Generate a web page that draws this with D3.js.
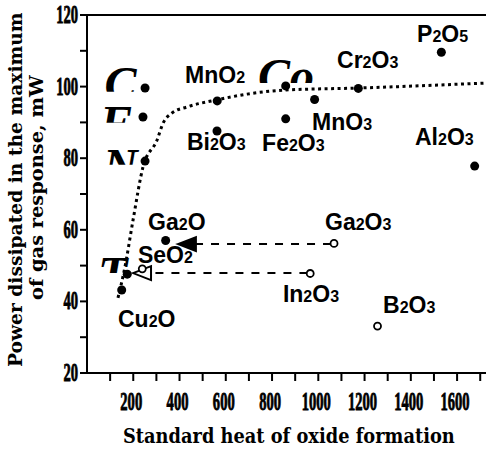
<!DOCTYPE html>
<html>
<head>
<meta charset="utf-8">
<script src="https://cdn.jsdelivr.net/npm/d3@7"></script>
<style>
  body { margin: 0; background: #fff; }
</style>
</head>
<body>
<svg id="chart" width="486" height="452"></svg>
<script>
// filled points (heat of formation, power)
const filledX = [150, 174, 340, 251, 242, 251, 563, 562, 859, 859, 984, 1173, 1532, 1676];
const filledY = [43.2, 47.6, 57, 99.6, 91.5, 79.2, 96, 87.6, 100.2, 91, 96.4, 99.5, 109.6, 77.8];

// open points
const openX = [239, 1068, 965, 1256];
const openY = [49.1, 56.2, 47.8, 33.1];

// dotted trend curve
const curveX = [134, 164, 199, 242, 303, 329, 367, 432, 562, 692, 860, 1172, 1725];
const curveY = [41.0, 49.6, 62.7, 77.5, 85.1, 89.8, 92.6, 94.3, 96.3, 97.9, 99.05, 99.6, 101.0];

// dashed arrows: start x, end x, y
const arrowFromX = [1055, 953];
const arrowToX = [393, 199];
const arrowY = [56.0, 47.9];

// oxide labels and where they sit (data units)
const labelText = ["MnO2", "Bi2O3", "Fe2O3", "MnO3", "Cr2O3", "P2O5", "Al2O3", "Ga2O3", "Ga2O", "SeO2", "Cu2O", "In2O3", "B2O3"];
const labelX = [424, 432, 757, 973, 1081, 1427, 1418, 1029, 264, 220, 134, 847, 1280];
const labelY = [101.0, 82.3, 82.0, 87.9, 105.2, 112.5, 83.7, 59.9, 59.9, 50.7, 32.8, 39.8, 36.8];

// big element letters, only their tops show
const bigText = ["C", "F", "N", "T", "Co"];
const bigX = [76, 56, 69, 48, 739];
const bigY = [96.3, 85.4, 73.4, 43.2, 98.5];
const bigShown = [24, 16, 15, 15, 23];

const xTicks = d3.range(100, 1800, 100);
const xTickLabels = [200, 400, 600, 800, 1000, 1200, 1400, 1600];
const yTicks = d3.range(20, 130, 10);
const yTickLabels = [20, 40, 60, 80, 100, 120];

const svg = d3.select("#chart");
const mLeft = 87, mTop = 15, mRight = 486, mBottom = 373;

const x = d3.scaleLinear().domain([0, 1725]).range([mLeft, mRight]);
const y = d3.scaleLinear().domain([20, 120]).range([mBottom, mTop]);

// frame lines
svg.append("path")
  .attr("d", d3.line()([[mRight, mTop], [mLeft, mTop], [mLeft, mBottom], [mRight, mBottom]]))
  .attr("fill", "none")
  .attr("stroke", "#000")
  .attr("stroke-width", 2);

// ticks
svg.selectAll(".xt").data(xTicks).enter().append("line")
  .attr("x1", d => x(d)).attr("x2", d => x(d))
  .attr("y1", mBottom).attr("y2", mBottom + 8)
  .attr("stroke", "#000").attr("stroke-width", 2);

svg.selectAll(".yt").data(yTicks).enter().append("line")
  .attr("x1", mLeft - 7).attr("x2", mLeft)
  .attr("y1", d => y(d)).attr("y2", d => y(d))
  .attr("stroke", "#000").attr("stroke-width", 2);

// tick labels, squeezed bold serif
svg.selectAll(".xl").data(xTickLabels).enter().append("text")
  .attr("transform", d => `translate(${x(d) - 2},410) scale(0.56,1)`)
  .attr("text-anchor", "middle")
  .attr("font-family", "Liberation Serif")
  .attr("font-weight", "bold")
  .attr("font-size", 26)
  .attr("stroke", "#000")
  .attr("stroke-width", 0.9)
  .text(d => d);

svg.selectAll(".yl").data(yTickLabels).enter().append("text")
  .attr("transform", d => `translate(78,${y(d) + 8}) scale(0.56,1)`)
  .attr("text-anchor", "end")
  .attr("font-family", "Liberation Serif")
  .attr("font-weight", "bold")
  .attr("font-size", 26)
  .attr("stroke", "#000")
  .attr("stroke-width", 0.9)
  .text(d => d);

// axis titles, squeezed to the reference width
function title(tx, ty, rot, size, width, str) {
  const t = svg.append("text")
    .attr("font-family", "DejaVu Serif")
    .attr("font-weight", "bold")
    .attr("font-size", size)
    .text(str);
  const k = width / t.node().getComputedTextLength();
  t.attr("transform", `translate(${tx},${ty}) rotate(${rot}) scale(${k},1)`);
}
title(123, 443, 0, 20, 332, "Standard heat of oxide formation");
title(22, 367, -90, 18, 355, "Power dissipated in the maximum");
title(43, 300, -90, 18, 225, "of gas response, mW");

// big letters, clipped under their tops
const defs = svg.append("defs");
bigText.forEach((t, i) => {
  const bx = x(bigX[i]), by = y(bigY[i]);
  defs.append("clipPath").attr("id", "clip" + i)
    .append("rect")
    .attr("x", bx - 10).attr("y", by - 34)
    .attr("width", 120).attr("height", 2 + bigShown[i]);
  svg.append("g")
    .attr("clip-path", `url(#clip${i})`)
    .append("text")
    .attr("x", bx).attr("y", by)
    .attr("font-family", "Liberation Serif")
    .attr("font-weight", "bold")
    .attr("font-style", "italic")
    .attr("font-size", 48)
    .text(t);
});

// dotted curve
svg.append("path")
  .attr("d", d3.line().x(d => x(d[0])).y(d => y(d[1])).curve(d3.curveMonotoneX)(d3.zip(curveX, curveY)))
  .attr("fill", "none")
  .attr("stroke", "#000")
  .attr("stroke-width", 3)
  .attr("stroke-dasharray", "3,3.5");

// dashed arrows
arrowFromX.forEach((fx, i) => {
  const ay = y(arrowY[i]);
  const tip = x(arrowToX[i]);
  svg.append("line")
    .attr("x1", x(fx)).attr("x2", tip + 16)
    .attr("y1", ay).attr("y2", ay)
    .attr("stroke", "#000").attr("stroke-width", 2)
    .attr("stroke-dasharray", "8,8");
  svg.append("path")
    .attr("d", d3.line()([[tip, ay], [tip + 18, ay - 7], [tip + 18, ay + 7]]) + "Z")
    .attr("fill", i === 0 ? "#000" : "#fff")
    .attr("stroke", "#000")
    .attr("stroke-width", 2);
});

// points
svg.selectAll(".fp").data(d3.zip(filledX, filledY)).enter().append("circle")
  .attr("cx", d => x(d[0])).attr("cy", d => y(d[1]))
  .attr("r", 4.5).attr("fill", "#000");

svg.selectAll(".op").data(d3.zip(openX, openY)).enter().append("circle")
  .attr("cx", d => x(d[0])).attr("cy", d => y(d[1]))
  .attr("r", 3.5).attr("fill", "#fff")
  .attr("stroke", "#000").attr("stroke-width", 1.8);

// formula labels with small digits
labelText.forEach((t, i) => {
  const txt = svg.append("text")
    .attr("x", x(labelX[i])).attr("y", y(labelY[i]))
    .attr("font-family", "Liberation Sans")
    .attr("font-weight", "bold")
    .attr("font-size", 23);
  t.match(/[A-Za-z]+|\d+/g).forEach(part => {
    const sp = txt.append("tspan").text(part);
    if (/\d/.test(part)) sp.attr("font-size", 16);
  });
});
</script>
</body>
</html>
